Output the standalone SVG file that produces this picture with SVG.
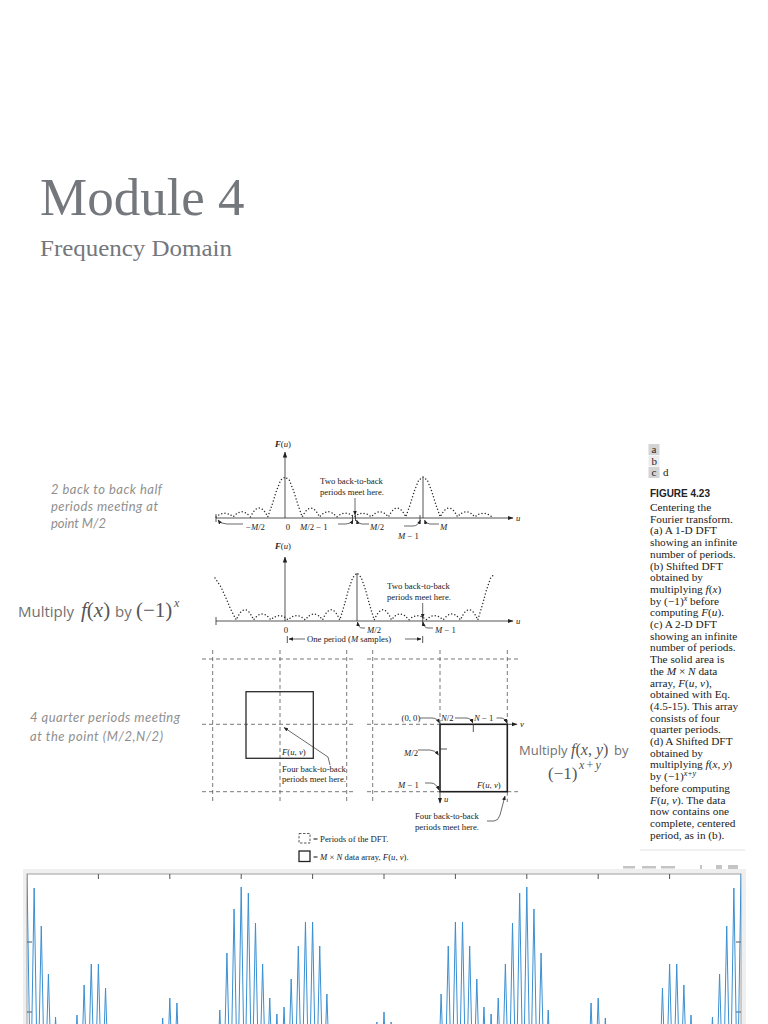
<svg xmlns="http://www.w3.org/2000/svg" width="768" height="1024" viewBox="0 0 768 1024">
<defs>
<style>
.title{font-family:"Liberation Serif","DejaVu Serif",serif;fill:#74777c}
.fig{font-family:"Liberation Serif","Times New Roman",serif;font-size:8.7px;fill:#222}
.lbl{font-family:"Liberation Serif","Times New Roman",serif;font-size:11px;fill:#222}
.it{font-style:italic}
.cap{font-family:"Liberation Serif","Times New Roman",serif;font-size:11.3px;fill:#222}
.ann{font-family:Lato,"Open Sans",sans-serif;font-style:italic;font-size:13px;fill:#8f8f8f}
.mul{font-family:"Open Sans",Lato,sans-serif;fill:#707070}
.math{font-family:"Liberation Serif","Times New Roman",serif;fill:#555}
.ax{stroke:#2a2a2a;stroke-width:0.8;fill:none}
.dot{stroke:#2a2a2a;stroke-width:1.5;stroke-dasharray:0 3.3;stroke-linecap:round;fill:none}
.dash{stroke:#555;stroke-width:0.8;stroke-dasharray:4 3;fill:none}
.lead{stroke:#2a2a2a;stroke-width:0.7;fill:none;marker-end:url(#ah)}
.axa{stroke:#2a2a2a;stroke-width:0.8;fill:none;marker-end:url(#ax)}
.sig{stroke:#3a8fd2;stroke-width:1;fill:none;stroke-linejoin:round}
</style>
<marker id="ah" viewBox="0 0 6 6" refX="5.5" refY="3" markerWidth="4.5" markerHeight="4.5" markerUnits="userSpaceOnUse" orient="auto"><path d="M0,0.5 L6,3 L0,5.5z" fill="#222"/></marker>
<marker id="ax" viewBox="0 0 6 6" refX="5.5" refY="3" markerWidth="6" markerHeight="6" markerUnits="userSpaceOnUse" orient="auto"><path d="M0,0.8 L6,3 L0,5.2z" fill="#222"/></marker>
<clipPath id="plotclip"><rect x="27" y="874" width="714" height="150"/></clipPath>
</defs>
<rect width="768" height="1024" fill="#fff"/>

<g id="title">
<text class="title" x="40" y="215" font-size="53">Module 4</text>
<text class="title" x="40" y="256" font-size="24" textLength="192" lengthAdjust="spacingAndGlyphs">Frequency Domain</text>
</g>

<g id="annotations">
<text class="ann" x="51" y="494" textLength="111" lengthAdjust="spacing">2 back to back half</text>
<text class="ann" x="51" y="511" textLength="107" lengthAdjust="spacing">periods meeting at</text>
<text class="ann" x="51" y="528" textLength="55" lengthAdjust="spacing">point M/2</text>
<text x="18" y="617"><tspan class="mul" font-size="15">Multiply</tspan><tspan class="math it" x="81" font-size="21">f</tspan><tspan class="math" font-size="21">(</tspan><tspan class="math it" font-size="21">x</tspan><tspan class="math" font-size="21">)</tspan><tspan class="mul" x="115" font-size="15">by</tspan><tspan class="math" x="136" font-size="21">(−1)</tspan><tspan class="math it" x="174" y="607" font-size="12">x</tspan></text>
<text class="ann" x="30" y="722" textLength="150" lengthAdjust="spacing">4 quarter periods meeting</text>
<text class="ann" x="30" y="741" textLength="133" lengthAdjust="spacing">at the point (M/2,N/2)</text>
<text x="519" y="755"><tspan class="mul" font-size="13">Multiply</tspan><tspan class="math it" x="571" font-size="16">f</tspan><tspan class="math" font-size="16">(</tspan><tspan class="math it" font-size="16">x</tspan><tspan class="math" font-size="16">, </tspan><tspan class="math it" font-size="16">y</tspan><tspan class="math" font-size="16">)</tspan><tspan class="mul" x="614" font-size="13">by</tspan></text>
<text x="548" y="779"><tspan class="math" font-size="17">(−1)</tspan><tspan class="math it" x="579" y="769" font-size="12" letter-spacing="1.5">x+y</tspan></text>
</g>

<g id="plot-a">
<text class="fig" x="283" y="447" text-anchor="middle"><tspan class="it" font-weight="bold">F</tspan>(<tspan class="it">u</tspan>)</text>
<path class="axa" d="M216,518 H513"/>
<path class="axa" d="M285,518 V452"/>
<text class="fig it" x="516" y="521">u</text>
<path class="ax" d="M216,514 V522 M352.5,515 V521 M355.5,515 V521 M420,515 V521 M423,477 V518"/>
<path class="dot" d="M216,517 q8.625,-7.4 17.25,0 q8.625,-10.4 17.25,0 q8.625,-17.8 17.25,0 l4.35,-12.3 l4.3,-13.8 l4.3,-10.8 l4.3,-3.1 l4.3,3.1 l4.3,10.8 l4.3,13.8 l4.35,12.3 q8.625,-17.8 17.25,0 q8.625,-10.4 17.25,0 q8.625,-7.4 17.25,0 q8.625,-7.4 17.25,0 q8.625,-10.4 17.25,0 q8.625,-17.8 17.25,0 l4.35,-12.3 l4.3,-13.8 l4.3,-10.8 l4.3,-3.1 l4.3,3.1 l4.3,10.8 l4.3,13.8 l4.35,12.3 q8.625,-17.8 17.25,0 q8.625,-10.4 17.25,0 q8.625,-7.4 17.25,0"/>
<text class="fig" x="320" y="484">Two back-to-back</text>
<text class="fig" x="320" y="495">periods meet here.</text>
<text class="fig" x="246" y="530">−<tspan class="it">M</tspan>/2</text>
<text class="fig" x="288" y="530" text-anchor="middle">0</text>
<text class="fig" x="300" y="530"><tspan class="it">M</tspan>/2 − 1</text>
<text class="fig" x="370" y="530"><tspan class="it">M</tspan>/2</text>
<text class="fig" x="398" y="539"><tspan class="it">M</tspan> − 1</text>
<text class="fig it" x="440" y="530">M</text>
</g>

<g id="plot-b">
<text class="fig" x="283" y="549" text-anchor="middle"><tspan class="it" font-weight="bold">F</tspan>(<tspan class="it">u</tspan>)</text>
<path class="axa" d="M216,621 H513"/>
<path class="axa" d="M285,621 V557"/>
<text class="fig it" x="516" y="624">u</text>
<path class="ax" d="M216,617 V625 M422.7,617 V625 M357,573 V621"/>
<path class="dot" d="M215,578 L221,587 L226,598 L230.5,609 L236.25,620 q8.625,-20.4 17.25,0 q8.625,-12 17.25,0 q8.625,-8.6 17.25,0 q8.625,-8.6 17.25,0 q8.625,-12 17.25,0 q8.625,-20.4 17.25,0 l4.35,-14.1 l4.3,-15.8 l4.3,-12.4 l4.3,-4.7 l4.3,4.7 l4.3,12.4 l4.3,15.8 l4.35,14.1 q8.625,-20.4 17.25,0 q8.625,-12 17.25,0 q8.625,-8.6 17.25,0 q8.625,-8.6 17.25,0 q8.625,-12 17.25,0 q8.625,-20.4 17.25,0 l4.35,-14.1 l4.3,-15.8 l4.3,-12.4 l2.3,-2.2"/>
<text class="fig" x="387" y="589">Two back-to-back</text>
<text class="fig" x="387" y="600">periods meet here.</text>
<text class="fig" x="286" y="633" text-anchor="middle">0</text>
<text class="fig" x="367" y="633"><tspan class="it">M</tspan>/2</text>
<text class="fig" x="435" y="633"><tspan class="it">M</tspan> − 1</text>
<text class="fig" x="307" y="642">One period (<tspan class="it">M</tspan> samples)</text>
<path class="ax" d="M287.3,636 V643 M422.7,636 V643"/>
</g>

<g id="grid-c">
<path class="dash" d="M202,659 H353 M202,724.3 H353 M202,791.7 H353 M212.7,650 V802 M280,650 V802 M346.7,650 V802"/>
<rect x="246" y="691.7" width="67.3" height="66.6" fill="none" stroke="#2a2a2a" stroke-width="1.3"/>
<text class="fig" x="282" y="755"><tspan class="it">F</tspan>(<tspan class="it">u</tspan>, <tspan class="it">v</tspan>)</text>
<text class="fig" x="282" y="771.5">Four back-to-back</text>
<text class="fig" x="282" y="781.5">periods meet here.</text>
</g>

<g id="grid-d">
<path class="dash" d="M367,659 H518 M367,724.3 H440 M367,791.7 H440 M507.3,791.7 H518 M372.7,650 V802 M440,650 V724.3 M507.3,650 V724.3 M507.3,791.7 V802"/>
<rect x="440" y="724.3" width="67.3" height="67.4" fill="none" stroke="#1e1e1e" stroke-width="1.6"/>
<path class="axa" d="M507,724.3 H517"/>
<path class="axa" d="M440,791.7 V803"/>
<text class="fig it" x="520" y="727">v</text>
<text class="fig it" x="444" y="802">u</text>
<path class="ax" d="M473.3,724.3 V732 M440,749 H447"/>
<text class="fig" x="401.5" y="721">(0, 0)</text>
<text class="fig" x="441" y="721"><tspan class="it">N</tspan>/2</text>
<text class="fig" x="474" y="721"><tspan class="it">N</tspan> − 1</text>
<text class="fig" x="404" y="756"><tspan class="it">M</tspan>/2</text>
<text class="fig" x="398" y="788"><tspan class="it">M</tspan> − 1</text>
<text class="fig" x="477" y="788"><tspan class="it">F</tspan>(<tspan class="it">u</tspan>, <tspan class="it">v</tspan>)</text>
<text class="fig" x="415" y="818.5">Four back-to-back</text>
<text class="fig" x="415" y="829.5">periods meet here.</text>
</g>

<g id="legend">
<rect x="299" y="833.5" width="11" height="9.5" fill="none" stroke="#333" stroke-width="0.8" stroke-dasharray="2.5 1.5"/>
<text class="fig" x="313" y="841.5">= Periods of the DFT.</text>
<rect x="299" y="851" width="11" height="10.5" fill="none" stroke="#222" stroke-width="1.3"/>
<text class="fig" x="313" y="860">= <tspan class="it">M</tspan> × <tspan class="it">N</tspan> data array, <tspan class="it">F</tspan>(<tspan class="it">u</tspan>, <tspan class="it">v</tspan>).</text>
</g>

<g id="connectors">
<path class="lead" d="M243,524 L227,524 Q221,524 218,520"/>
<path class="lead" d="M338,524 L346,524 Q351,524 353,520"/>
<path class="lead" d="M369,524 L362,524 Q358,524 356.5,520"/>
<path class="lead" d="M404,526 L413,526 Q418,526 420.5,520"/>
<path class="lead" d="M439,524 L430,524 Q426,524 424.5,520"/>
<path class="lead" d="M355,498 L355,515"/>
<path class="lead" d="M365,628 L362,628 Q358.5,628 357.5,622"/>
<path class="lead" d="M433,628 L428,628 Q424,628 423,622"/>
<path class="lead" d="M422.7,603 L422.7,618"/>
<path class="lead" d="M305,639 L289,639"/>
<path class="lead" d="M405,639 L421,639"/>
<path class="lead" d="M330,765 L328,757 L284,727.5"/>
<path class="lead" d="M420,718 L432,718 Q437,718 439.5,723"/>
<path class="lead" d="M455,718 L466,718 Q471,718 472.8,723"/>
<path class="lead" d="M496.5,718 L501,718 Q505,718 506.8,723"/>
<path class="lead" d="M418,750 L430,750 Q435,750 438.5,755"/>
<path class="lead" d="M425,783 L431,783 Q436,783 439,790"/>
<path class="lead" d="M487,821 L494,821 Q498,821 500,815 L505,796"/>
</g>

<g id="caption">
<rect x="648.5" y="444" width="11" height="11" fill="#d4d4d4"/>
<rect x="648.5" y="455.5" width="11" height="11" fill="#ececec"/>
<rect x="648.5" y="467" width="11" height="11" fill="#d4d4d4"/>
<text class="lbl" x="651.5" y="453">a</text>
<text class="lbl" x="651.5" y="464.5">b</text>
<text class="lbl" x="651.5" y="476">c</text>
<text class="lbl" x="663" y="476">d</text>
<text x="650" y="497" font-family="'Liberation Sans',Arial,sans-serif" font-weight="bold" font-size="10.5" fill="#222" textLength="60" lengthAdjust="spacingAndGlyphs">FIGURE 4.23</text>
<text class="cap" x="650" y="511">Centering the</text>
<text class="cap" x="650" y="522.7">Fourier transform.</text>
<text class="cap" x="650" y="534.4">(a) A 1-D DFT</text>
<text class="cap" x="650" y="546.1">showing an infinite</text>
<text class="cap" x="650" y="557.8">number of periods.</text>
<text class="cap" x="650" y="569.5">(b) Shifted DFT</text>
<text class="cap" x="650" y="581.2">obtained by</text>
<text class="cap" x="650" y="592.9">multiplying <tspan class="it">f</tspan>(<tspan class="it">x</tspan>)</text>
<text class="cap" x="650" y="604.6">by (−1)<tspan class="it" dy="-4" font-size="8">x</tspan><tspan dy="4"> before</tspan></text>
<text class="cap" x="650" y="616.3">computing <tspan class="it">F</tspan>(<tspan class="it">u</tspan>).</text>
<text class="cap" x="650" y="628">(c) A 2-D DFT</text>
<text class="cap" x="650" y="639.7">showing an infinite</text>
<text class="cap" x="650" y="651.4">number of periods.</text>
<text class="cap" x="650" y="663.1">The solid area is</text>
<text class="cap" x="650" y="674.8">the <tspan class="it">M</tspan> × <tspan class="it">N</tspan> data</text>
<text class="cap" x="650" y="686.5">array, <tspan class="it">F</tspan>(<tspan class="it">u</tspan>, <tspan class="it">v</tspan>),</text>
<text class="cap" x="650" y="698.2">obtained with Eq.</text>
<text class="cap" x="650" y="709.9">(4.5-15). This array</text>
<text class="cap" x="650" y="721.6">consists of four</text>
<text class="cap" x="650" y="733.3">quarter periods.</text>
<text class="cap" x="650" y="745">(d) A Shifted DFT</text>
<text class="cap" x="650" y="756.7">obtained by</text>
<text class="cap" x="650" y="768.4">multiplying <tspan class="it">f</tspan>(<tspan class="it">x</tspan>, <tspan class="it">y</tspan>)</text>
<text class="cap" x="650" y="780.1">by (−1)<tspan class="it" dy="-4" font-size="8">x+y</tspan></text>
<text class="cap" x="650" y="791.8">before computing</text>
<text class="cap" x="650" y="803.5"><tspan class="it">F</tspan>(<tspan class="it">u</tspan>, <tspan class="it">v</tspan>). The data</text>
<text class="cap" x="650" y="815.2">now contains one</text>
<text class="cap" x="650" y="826.9">complete, centered</text>
<text class="cap" x="650" y="838.6">period, as in (b).</text>
<path d="M640,850 H745" stroke="#e2e2e2" stroke-width="1"/>
</g>

<g id="signal-plot">
<rect x="23" y="869" width="723" height="160" fill="#efefef"/>
<rect x="27" y="874" width="714" height="155" fill="#fff" stroke="#a0a0a0" stroke-width="1"/>
<g fill="#c4c4c4">
<rect x="623" y="866" width="12" height="2.5"/><rect x="642" y="866" width="14" height="2.5"/><rect x="661" y="866" width="14" height="2.5"/><rect x="700" y="865" width="2" height="4"/><rect x="716" y="865" width="6" height="4"/><rect x="728" y="865" width="10" height="4"/>
</g>
<path d="M98.4,874 v5 M169.8,874 v5 M241.2,874 v5 M312.6,874 v5 M384,874 v5 M455.4,874 v5 M526.8,874 v5 M598.2,874 v5 M669.6,874 v5 M27,942 h5 M27,1012 h5 M741,942 h-5 M741,1012 h-5" stroke="#555" stroke-width="1" fill="none"/>
<path class="sig" clip-path="url(#plotclip)" d="M27,874 L30.57,1100 L34.14,888 L37.71,1100 L41.28,926 L44.85,1100 L48.42,974 L51.99,1100 L55.56,1017 L59.13,1100 L73.41,1100 L76.98,1015 L80.55,1100 L84.12,985 L87.69,1100 L91.26,964 L94.83,1100 L98.4,964 L101.97,1100 L105.54,988 L109.11,1100 L159.09,1100 L162.66,1018 L166.23,1100 L169.8,998 L173.37,1100 L176.94,1003 L180.51,1100 L216.21,1100 L219.78,1010 L223.35,1100 L226.92,953 L230.49,1100 L234.06,909 L237.63,1100 L241.2,887 L244.77,1100 L248.34,893 L251.91,1100 L255.48,923 L259.05,1100 L262.62,964 L266.19,1100 L269.76,998 L273.33,1100 L276.9,1014 L280.47,1100 L284.04,1007 L287.61,1100 L291.18,979 L294.75,1100 L298.32,946 L301.89,1100 L305.46,922 L309.03,1100 L312.6,922 L316.17,1100 L319.74,946 L323.31,1100 L326.88,994 L330.45,1100 L373.29,1100 L376.86,1022 L380.43,1100 L384,1012 L387.57,1100 L391.14,1022 L394.71,1100 L437.55,1100 L441.12,994 L444.69,1100 L448.26,946 L451.83,1100 L455.4,922 L458.97,1100 L462.54,922 L466.11,1100 L469.68,946 L473.25,1100 L476.82,979 L480.39,1100 L483.96,1007 L487.53,1100 L491.1,1014 L494.67,1100 L498.24,998 L501.81,1100 L505.38,964 L508.95,1100 L512.52,923 L516.09,1100 L519.66,893 L523.23,1100 L526.8,887 L530.37,1100 L533.94,909 L537.51,1100 L541.08,953 L544.65,1100 L548.22,1010 L551.79,1100 L587.49,1100 L591.06,1003 L594.63,1100 L598.2,998 L601.77,1100 L605.34,1018 L608.91,1100 L658.89,1100 L662.46,988 L666.03,1100 L669.6,964 L673.17,1100 L676.74,964 L680.31,1100 L683.88,985 L687.45,1100 L691.02,1015 L694.59,1100 L708.87,1100 L712.44,1017 L716.01,1100 L719.58,974 L723.15,1100 L726.72,926 L730.29,1100 L733.86,888 L737.43,1100 L741,874"/>
</g>
</svg>
